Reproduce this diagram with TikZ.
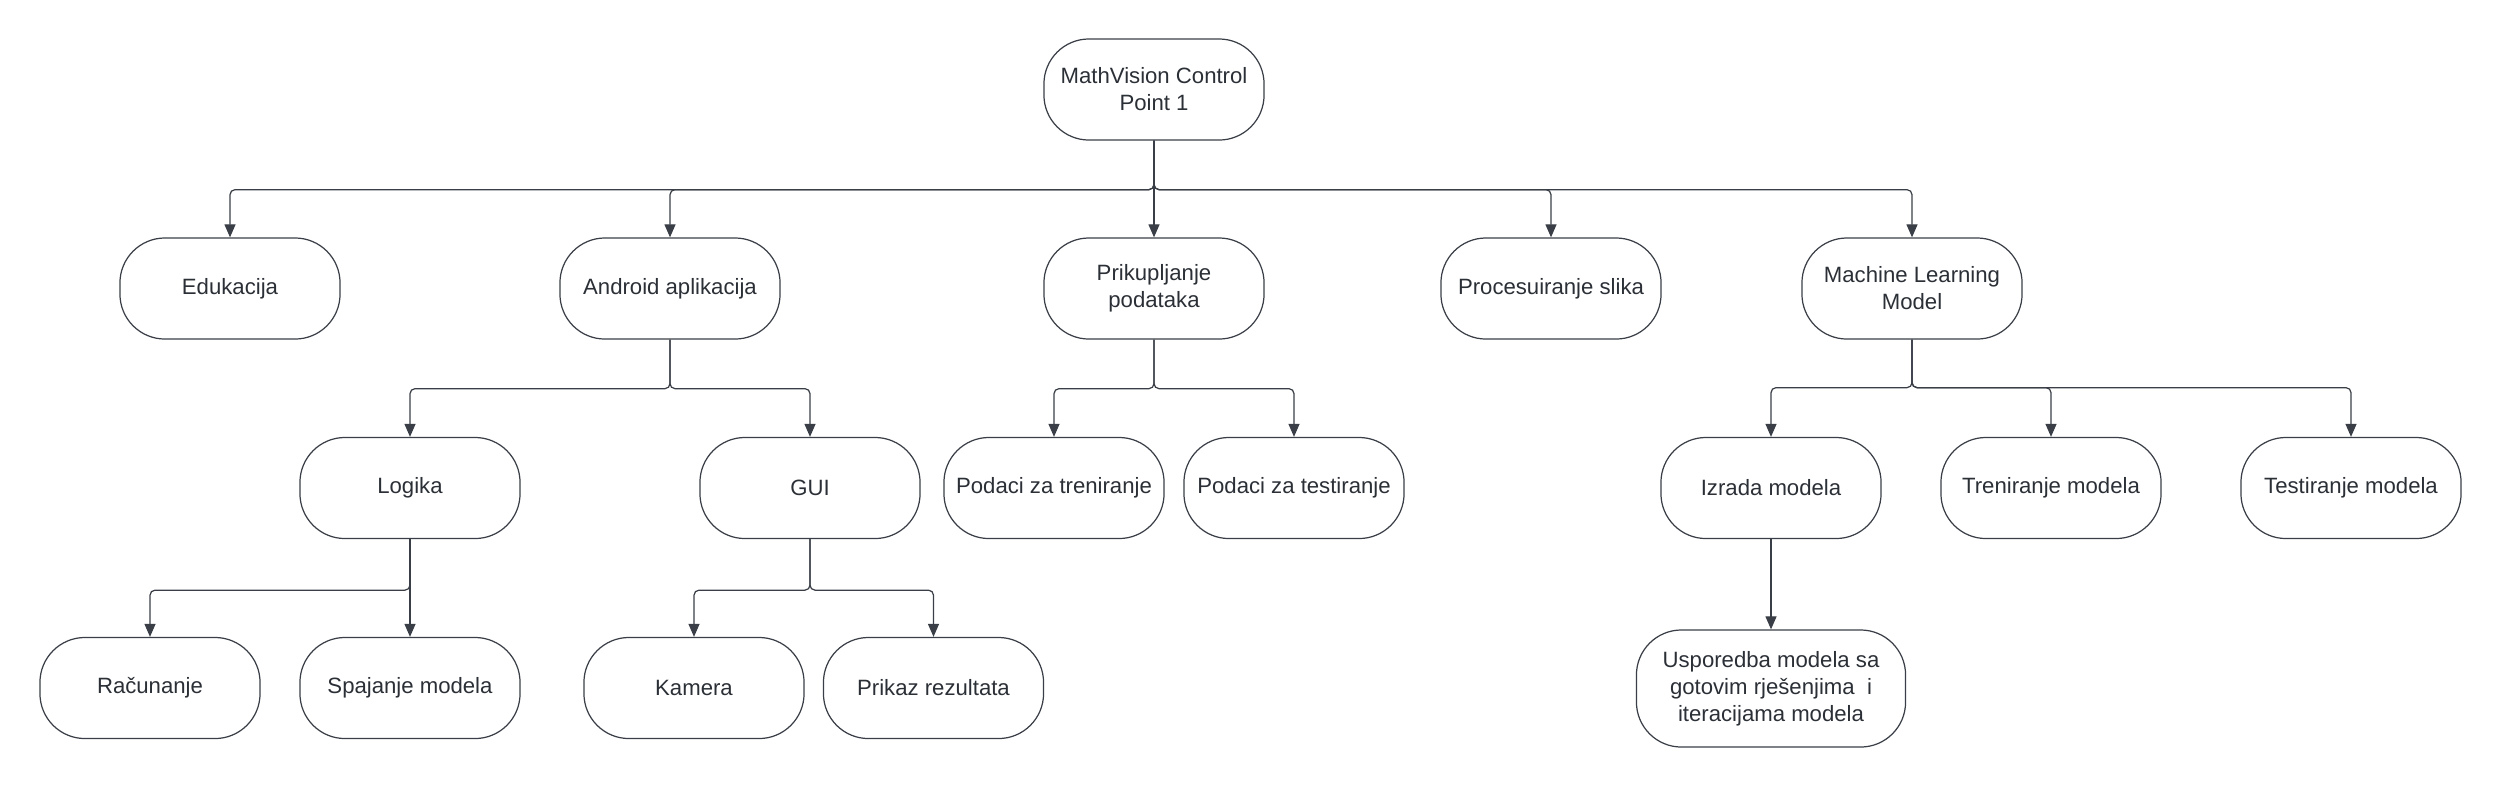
\documentclass[tikz,border=0pt]{standalone}
\usepackage{fontspec}
\setmainfont{Liberation Sans}
\usetikzlibrary{arrows.meta}
\definecolor{edgegray}{HTML}{3A3F47}
\definecolor{textgray}{HTML}{2B2F36}

\begin{document}
\begin{tikzpicture}[x=0.01cm, y=-0.01cm,
		box/.style={draw=edgegray, line width=0.35pt, rounded corners=0.45cm,
			minimum width=2.2cm, minimum height=1.01cm, align=center,
			text=textgray, font=\fontsize{6.3}{7.7}\selectfont, inner sep=0pt},
		link/.style={draw=edgegray, line width=0.35pt, rounded corners=0.05cm,
			-{Triangle[length=0.13cm, width=0.11cm]}}]
	\useasboundingbox (0,0) rectangle (2502,787);
	\node[box] (root) at (1154,89.5) {MathVision Control\\Point 1};
	\node[box] (edu) at (230,288.5) {Edukacija};
	\node[box] (android) at (670,288.5) {Android aplikacija};
	\node[box] (prik) at (1154,288.5) {Prikupljanje\\podataka};
	\node[box] (proc) at (1551,288.5) {Procesuiranje slika};
	\node[box] (ml) at (1912,288.5) {Machine Learning\\Model};
	\node[box] (logika) at (410,488) {Logika};
	\node[box] (gui) at (810,488) {GUI};
	\node[box] (ptren) at (1054,488) {Podaci za treniranje};
	\node[box] (ptest) at (1294,488) {Podaci za testiranje};
	\node[box] (izrada) at (1771,488) {Izrada modela};
	\node[box] (tren) at (2051,488) {Treniranje modela};
	\node[box] (test) at (2351,488) {Testiranje modela};
	\node[box] (racun) at (150,688) {Računanje};
	\node[box] (spaj) at (410,688) {Spajanje modela};
	\node[box] (kamera) at (694,688) {Kamera};
	\node[box] (prikaz) at (933.5,688) {Prikaz rezultata};
	\node[box, minimum width=2.69cm, minimum height=1.17cm] (uspor) at (1771,688.5)
		{Usporedba modela sa\\gotovim rješenjima\ \ i\\iteracijama modela};

	\draw[link] (root.south) -- ++(0,49) -| (edu.north);
	\draw[link] (root.south) -- ++(0,49) -| (android.north);
	\draw[link] (root.south) -- (prik.north);
	\draw[link] (root.south) -- ++(0,49) -| (proc.north);
	\draw[link] (root.south) -- ++(0,49) -| (ml.north);

	\draw[link] (android.south) -- ++(0,49) -| (logika.north);
	\draw[link] (android.south) -- ++(0,49) -| (gui.north);
	\draw[link] (prik.south) -- ++(0,49) -| (ptren.north);
	\draw[link] (prik.south) -- ++(0,49) -| (ptest.north);
	\draw[link] (ml.south) -- ++(0,48) -| (izrada.north);
	\draw[link] (ml.south) -- ++(0,48) -| (tren.north);
	\draw[link] (ml.south) -- ++(0,48) -| (test.north);

	\draw[link] (logika.south) -- ++(0,51) -| (racun.north);
	\draw[link] (logika.south) -- (spaj.north);
	\draw[link] (gui.south) -- ++(0,51) -| (kamera.north);
	\draw[link] (gui.south) -- ++(0,51) -| (prikaz.north);
	\draw[link] (izrada.south) -- (uspor.north);
\end{tikzpicture}
\end{document}
